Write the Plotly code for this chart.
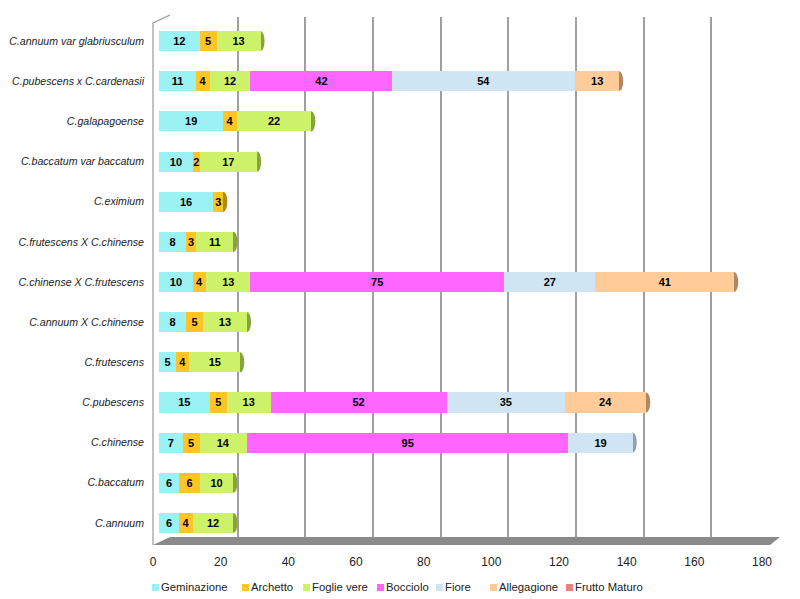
import plotly.graph_objects as go

# ---------------- data (top row of the chart listed first) ----------------
categories = [
    "C.annuum var glabriusculum",
    "C.pubescens x C.cardenasii",
    "C.galapagoense",
    "C.baccatum var baccatum",
    "C.eximium",
    "C.frutescens X C.chinense",
    "C.chinense X C.frutescens",
    "C.annuum X C.chinense",
    "C.frutescens",
    "C.pubescens",
    "C.chinense",
    "C.baccatum",
    "C.annuum",
]
geminazione   = [12, 11, 19, 10, 16, 8, 10, 8, 5, 15, 7, 6, 6]
archetto      = [5, 4, 4, 2, 3, 3, 4, 5, 4, 5, 5, 6, 4]
foglie_vere   = [13, 12, 22, 17, None, 11, 13, 13, 15, 13, 14, 10, 12]
bocciolo      = [None, 42, None, None, None, None, 75, None, None, 52, 95, None, None]
fiore         = [None, 54, None, None, None, None, 27, None, None, 35, 19, None, None]
allegagione   = [None, 13, None, None, None, None, 41, None, None, 24, None, None, None]
frutto_maturo = [None] * 13

series_names = ["Geminazione", "Archetto", "Foglie vere", "Bocciolo", "Fiore",
                "Allegagione", "Frutto Maturo"]
series_values = [geminazione, archetto, foglie_vere, bocciolo, fiore,
                 allegagione, frutto_maturo]
x_ticks = [0, 20, 40, 60, 80, 100, 120, 140, 160, 180]

# ---------------- styles ----------------
colors = ["#9AF2F5", "#FFC425", "#CDF26A", "#FF66FF", "#CFE5F3", "#FFCC99", "#F08080"]
cap_colors = ["#5FB8BC", "#B08A10", "#86A43E", "#B040B0", "#8FA0B0", "#B08860", "#A05050"]
legend_x_px = [152, 242, 303, 377, 436, 490, 566]   # left edge of each legend square
FONT = "Liberation Sans, Arial, sans-serif"
OFF = 8                      # page body margin
W, H = 800 - OFF, 599 - OFF  # figure size so that it fills the window


def fx(px):
    return (px - OFF) / W


def fy(py):
    return 1 - (py - OFF) / H


# plotly puts the first category at the bottom
cats = categories[::-1]

fig = go.Figure()

# invisible trace for the back-wall grid subplot
fig.add_trace(go.Scatter(x=[None], y=[None], xaxis="x", yaxis="y",
                         showlegend=False, hoverinfo="skip"))

for name, vals, col in zip(series_names, series_values, colors):
    v = vals[::-1]
    fig.add_trace(go.Bar(
        y=cats, x=[0 if a is None else a for a in v], name=name, orientation="h",
        xaxis="x2", yaxis="y2", showlegend=False,
        marker=dict(color=col, line=dict(width=0)),
        text=["" if a is None else str(a) for a in v],
        textposition="inside", insidetextanchor="middle", textangle=0,
        constraintext="none",
        textfont=dict(family=FONT, size=11, color="#000000", weight="bold"),
        hoverinfo="skip",
    ))

# invisible trace for the tick-label axis
fig.add_trace(go.Scatter(x=[None], y=[None], xaxis="x3", yaxis="y2",
                         showlegend=False, hoverinfo="skip"))

shapes = []
annotations = []
# decorative 3D frame: floor and left wall
shapes.append(dict(type="path", xref="paper", yref="paper", layer="below",
                   path=f"M {fx(153)} {fy(545)} L {fx(170)} {fy(537)} L {fx(780)} {fy(537)} "
                        f"L {fx(770)} {fy(545)} Z",
                   fillcolor="#8a8a8a", line=dict(width=0)))
shapes.append(dict(type="path", xref="paper", yref="paper", layer="below",
                   path=f"M {fx(153)} {fy(545)} L {fx(153)} {fy(23)} L {fx(170)} {fy(15)}",
                   line=dict(color="#9a9a9a", width=1.2)))

# cylinder end caps, positioned from the data
half = 0.25
for i, cat in enumerate(categories):
    row = len(categories) - 1 - i
    total = 0
    last = 0
    for k, vals in enumerate(series_values):
        if vals[i] is not None:
            total += vals[i]
            last = k
    shapes.append(dict(type="circle", xref="x2", yref="y2", layer="below",
                       x0=-1.0, x1=1.0, y0=row - half, y1=row + half,
                       fillcolor=colors[0], line=dict(width=0)))
    shapes.append(dict(type="circle", xref="x2", yref="y2", layer="below",
                       x0=total - 1.2, x1=total + 1.2, y0=row - half, y1=row + half,
                       fillcolor=cap_colors[last], line=dict(width=0)))

# legend (squares + labels)
for name, col, lx in zip(series_names, colors, legend_x_px):
    shapes.append(dict(type="rect", xref="paper", yref="paper",
                       x0=fx(lx), x1=fx(lx + 7), y0=fy(591), y1=fy(584),
                       fillcolor=col, line=dict(width=0)))
    annotations.append(dict(xref="paper", yref="paper", x=fx(lx + 7), y=fy(587),
                            xanchor="left", yanchor="middle", showarrow=False,
                            text=name, font=dict(family=FONT, size=11.3, color="#222222")))

fig.update_layout(
    width=W, height=H,
    margin=dict(l=0, r=0, t=0, b=0, autoexpand=False),
    paper_bgcolor="white", plot_bgcolor="rgba(0,0,0,0)",
    barmode="stack", bargap=0.5,
    font=dict(family=FONT, size=11, color="#222222"),
    uniformtext=dict(minsize=11, mode="show"),
    shapes=shapes, annotations=annotations,
    showlegend=False,
    # back wall grid
    xaxis=dict(domain=[fx(170), fx(779)], range=[0, 180], tickvals=x_ticks,
               showgrid=True, gridcolor="#a0a0a0", gridwidth=1.5,
               showticklabels=False, zeroline=False, showline=False, ticks="",
               anchor="y", fixedrange=True, automargin=False),
    yaxis=dict(domain=[fy(537), fy(17)], range=[0, 1], visible=False,
               anchor="x", fixedrange=True, automargin=False),
    # bars
    xaxis2=dict(domain=[fx(159), fx(768)], range=[0, 180], visible=False,
                anchor="y2", fixedrange=True, automargin=False),
    yaxis2=dict(domain=[fy(543), fy(21)], anchor="x2", type="category",
                categoryorder="array", categoryarray=cats,
                showgrid=False, zeroline=False, showline=False, ticks="",
                ticklabelstandoff=14, automargin=False,
                tickfont=dict(family=FONT, size=10.6, color="#222222", style="italic"),
                fixedrange=True),
    # tick labels
    xaxis3=dict(domain=[fx(153), fx(762)], range=[0, 180], tickvals=x_ticks,
                showgrid=False, zeroline=False, showline=False, ticks="",
                ticklabelstandoff=10, anchor="y2", automargin=False,
                tickfont=dict(family=FONT, size=12, color="#222222"),
                fixedrange=True),
)

fig.write_html("out.html")
